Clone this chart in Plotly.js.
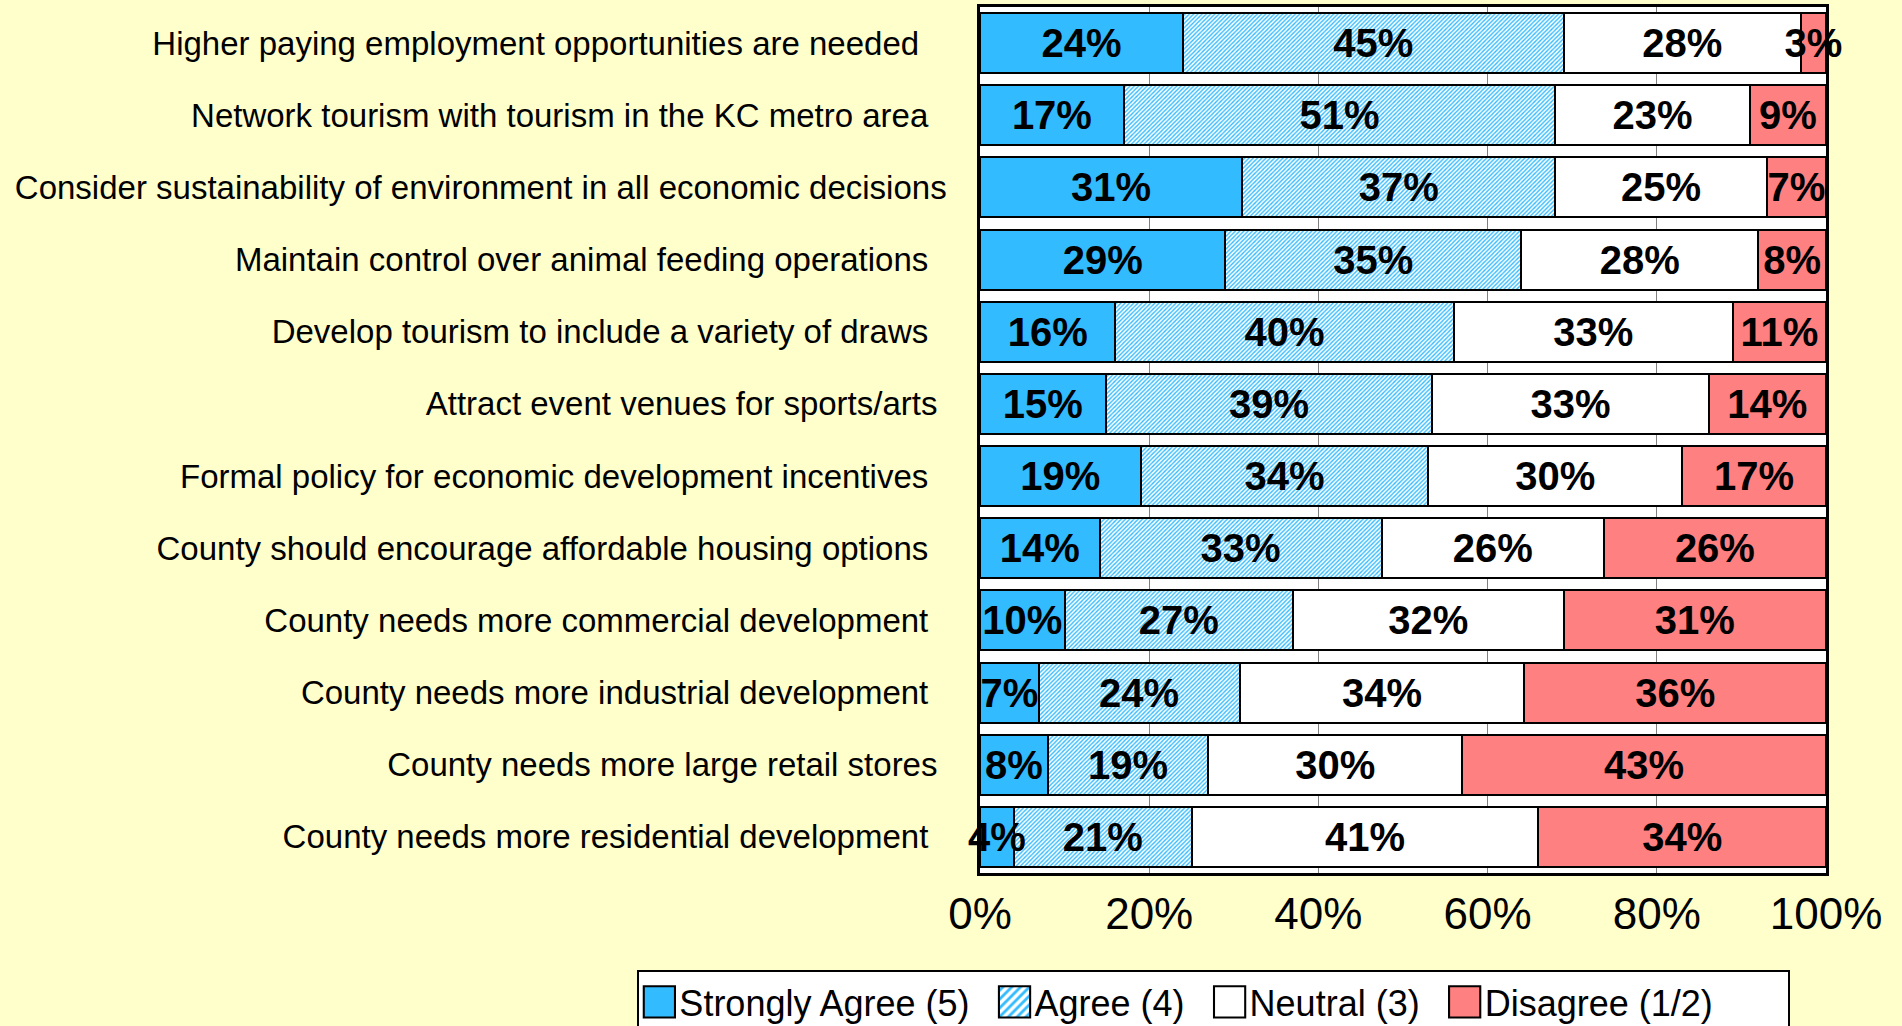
<!DOCTYPE html>
<html>
<head>
<meta charset="utf-8">
<script src="https://cdn.plot.ly/plotly-3.0.1.min.js"></script>
<style>
  html, body { margin: 0; padding: 0; background: #FFFFCC; }
  #chart { width: 1902px; height: 1026px; }
</style>
</head>
<body>
<div id="chart"></div>
<script>
var statements = [
  'Higher paying employment opportunities are needed',
  'Network tourism with tourism in the KC metro area',
  'Consider sustainability of environment in all economic decisions',
  'Maintain control over animal feeding operations',
  'Develop tourism to include a variety of draws',
  'Attract event venues for sports/arts',
  'Formal policy for economic development incentives',
  'County should encourage affordable housing options',
  'County needs more commercial development',
  'County needs more industrial development',
  'County needs more large retail stores',
  'County needs more residential development'
];

var stronglyAgree = [24, 17, 31, 29, 16, 15, 19, 14, 10, 7, 8, 4];
var agree         = [45, 51, 37, 35, 40, 39, 34, 33, 27, 24, 19, 21];
var neutral       = [28, 23, 25, 28, 33, 33, 30, 26, 32, 34, 30, 41];
var disagree      = [3, 9, 7, 8, 11, 14, 17, 26, 31, 36, 43, 34];

var xTicks = [0, 20, 40, 60, 80, 100];
var xTickText = ['0%', '20%', '40%', '60%', '80%', '100%'];

// the source labels carry a few trailing blanks, so their right edges differ
var trailing = [3, 2, 0, 2, 2, 1, 2, 2, 2, 2, 1, 2];
var yTickText = statements.map(function (s, i) {
  return s + '\u00a0'.repeat(trailing[i]);
});

function pct(arr) {
  return arr.map(function (v) { return v + '%'; });
}

var labelFont = { family: 'Liberation Sans, Arial, sans-serif', size: 40, color: 'black', weight: 'bold' };
var edge = { color: 'black', width: 2 };
var pad = '\u00a0\u00a0';

function series(name, values, marker) {
  marker.line = edge;
  return {
    type: 'bar',
    orientation: 'h',
    name: name,
    y: statements,
    x: values,
    text: pct(values),
    textposition: 'inside',
    insidetextanchor: 'middle',
    textangle: 0,
    textfont: labelFont,
    cliponaxis: false,
    marker: marker,
    hoverinfo: 'name+x'
  };
}

var data = [
  series('Strongly Agree (5)' + pad, stronglyAgree, { color: '#33BBFF' }),
  series('Agree (4)' + pad, agree, {
    color: 'white',
    pattern: { shape: '/', fgcolor: '#33BBFF', bgcolor: 'white', size: 3, solidity: 0.45 }
  }),
  series('Neutral (3)' + pad, neutral, { color: 'white' }),
  series('Disagree (1/2)' + pad + pad + pad + '\u00a0', disagree, { color: '#FF8080' })
];

var layout = {
  width: 1902,
  height: 1026,
  paper_bgcolor: '#FFFFCC',
  plot_bgcolor: 'white',
  font: { family: 'Liberation Sans, Arial, sans-serif', color: 'black' },
  margin: { l: 980, r: 76, t: 7, b: 153, autoexpand: false },
  barmode: 'stack',
  barnorm: 'percent',
  bargap: 0.17,
  uniformtext: { mode: 'show', minsize: 40 },
  showlegend: true,
  legend: {
    orientation: 'h',
    x: -0.405,
    xanchor: 'left',
    y: -0.112,
    yanchor: 'top',
    bgcolor: 'white',
    bordercolor: 'black',
    borderwidth: 2,
    font: { size: 36 },
    traceorder: 'normal'
  },
  xaxis: {
    range: [0, 100],
    tickvals: xTicks,
    ticktext: xTickText,
    tickfont: { size: 44 },
    ticklabelstandoff: 0,
    showgrid: true,
    gridcolor: '#808080',
    gridwidth: 1,
    zeroline: false,
    showline: true,
    mirror: true,
    linecolor: 'black',
    linewidth: 2.5,
    ticks: ''
  },
  yaxis: {
    autorange: 'reversed',
    tickvals: statements,
    ticktext: yTickText,
    tickfont: { size: 33 },
    ticks: '',
    ticklabelstandoff: 24,
    showline: true,
    mirror: true,
    linecolor: 'black',
    linewidth: 2.5
  }
};

Plotly.newPlot('chart', data, layout, { displayModeBar: false }).then(function (gd) {
  // keep every percentage label above all the bar segments
  var layer = gd.querySelector('.barlayer');
  if (layer) {
    var top = document.createElementNS('http://www.w3.org/2000/svg', 'g');
    layer.appendChild(top);
    layer.querySelectorAll('text.bartext').forEach(function (t) { top.appendChild(t); });
  }
  // bigger legend swatches, as in the original
  gd.querySelectorAll('.legend .legendpoints path').forEach(function (p) {
    var tr = p.getAttribute('transform') || '';
    p.setAttribute('transform', tr + ' scale(2.6)');
    p.style.strokeWidth = '0.8px';
  });
});
</script>
</body>
</html>
